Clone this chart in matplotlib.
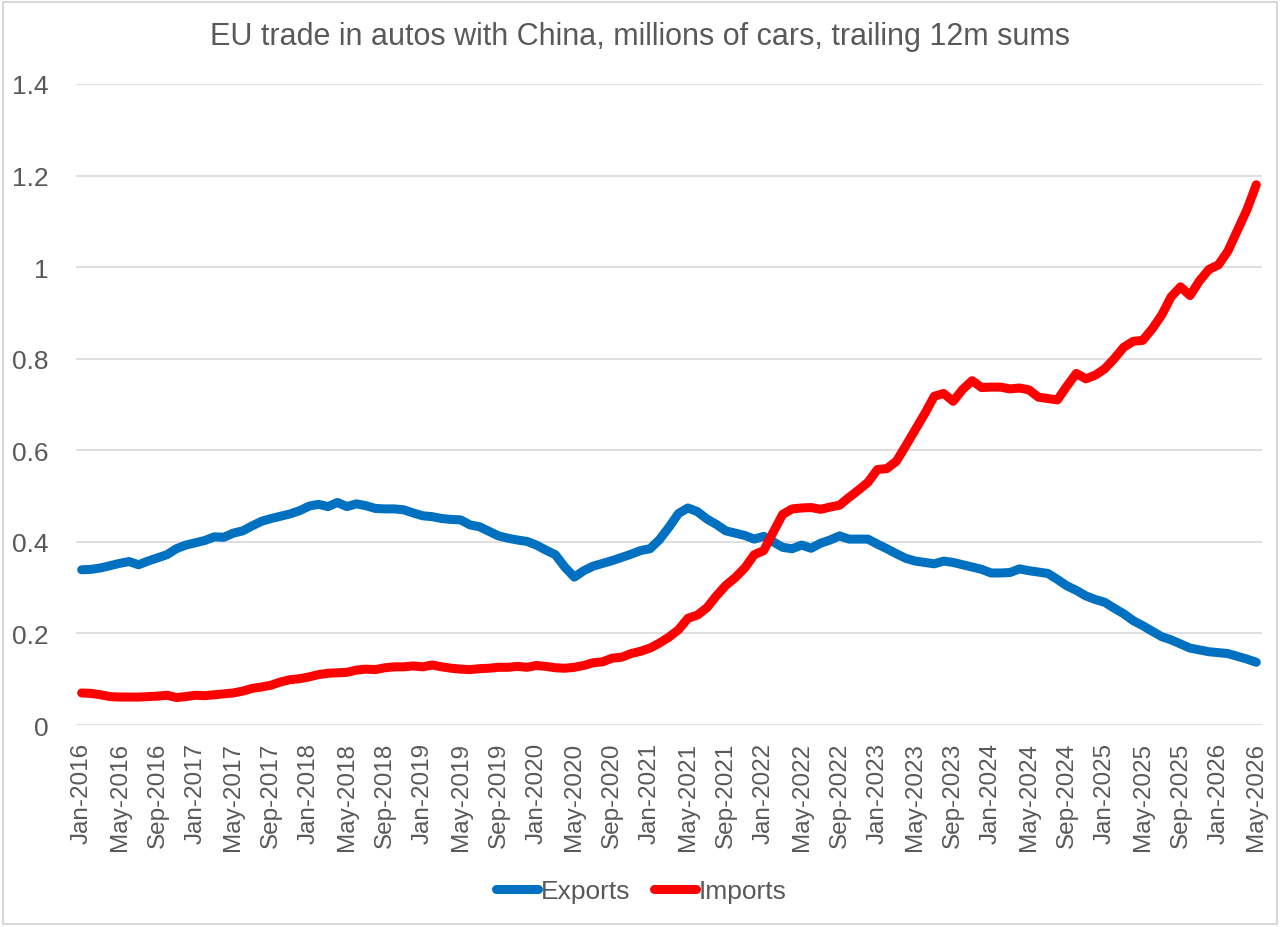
import matplotlib
matplotlib.use("Agg")
import matplotlib.pyplot as plt
import pandas as pd

# monthly, Jan-2016 .. May-2026, millions of cars (trailing 12m sums)
months = pd.date_range("2016-01-01", "2026-05-01", freq="MS")

exports = [
    0.339, 0.340, 0.343, 0.348, 0.353, 0.357, 0.350, 0.358, 0.365, 0.372, 0.385, 0.393,
    0.398, 0.403, 0.411, 0.410, 0.419, 0.424, 0.435, 0.445, 0.451, 0.456, 0.461, 0.468,
    0.478, 0.482, 0.477, 0.486, 0.477, 0.483, 0.479, 0.473, 0.472, 0.472, 0.470, 0.463,
    0.457, 0.455, 0.451, 0.449, 0.448, 0.437, 0.433, 0.423, 0.413, 0.408, 0.404, 0.401,
    0.393, 0.382, 0.372, 0.345, 0.323, 0.337, 0.347, 0.353, 0.359, 0.366, 0.373, 0.381,
    0.385, 0.405, 0.432, 0.462, 0.474, 0.466, 0.450, 0.438, 0.424, 0.419, 0.414, 0.406,
    0.412, 0.400, 0.388, 0.385, 0.393, 0.386, 0.397, 0.404, 0.413, 0.406, 0.406, 0.406,
    0.395, 0.385, 0.374, 0.364, 0.358, 0.355, 0.352, 0.358, 0.355, 0.350, 0.345, 0.340,
    0.332, 0.332, 0.333, 0.341, 0.337, 0.334, 0.331, 0.318, 0.304, 0.294, 0.282, 0.274,
    0.268, 0.255, 0.243, 0.228, 0.217, 0.205, 0.193, 0.186, 0.177, 0.168, 0.164, 0.160,
    0.158, 0.156, 0.150, 0.144, 0.137,
]

imports = [
    0.070, 0.069, 0.066, 0.062, 0.061, 0.061, 0.061, 0.062, 0.063, 0.065, 0.060, 0.062,
    0.065, 0.064, 0.066, 0.068, 0.070, 0.074, 0.080, 0.083, 0.087, 0.094, 0.099, 0.101,
    0.105, 0.110, 0.113, 0.114, 0.115, 0.120, 0.122, 0.121, 0.125, 0.127, 0.127, 0.129,
    0.127, 0.131, 0.127, 0.124, 0.122, 0.121, 0.123, 0.124, 0.126, 0.126, 0.128, 0.126,
    0.130, 0.128, 0.125, 0.124, 0.126, 0.130, 0.136, 0.138, 0.146, 0.148, 0.156, 0.161,
    0.168, 0.179, 0.192, 0.208, 0.233, 0.240, 0.256, 0.282, 0.305, 0.322, 0.343, 0.372,
    0.381, 0.421, 0.460, 0.472, 0.474, 0.475, 0.471, 0.476, 0.480, 0.497, 0.513, 0.530,
    0.558, 0.560, 0.576, 0.610, 0.645, 0.680, 0.718, 0.724, 0.707, 0.733, 0.752, 0.737,
    0.738, 0.738, 0.734, 0.736, 0.732, 0.716, 0.713, 0.710, 0.740, 0.768, 0.756, 0.764,
    0.778, 0.800, 0.825, 0.838, 0.840, 0.865, 0.895, 0.935, 0.957, 0.938, 0.970, 0.995,
    1.005, 1.035, 1.080, 1.125, 1.180,
]

yticks = [0, 0.2, 0.4, 0.6, 0.8, 1.0, 1.2, 1.4]
ytick_labels = ["0", "0.2", "0.4", "0.6", "0.8", "1", "1.2", "1.4"]

font = "Liberation Sans"
grey = "#595959"

fig = plt.figure(figsize=(12.8, 9.28), dpi=100)
ax = fig.add_axes([76 / 1280, 1 - 726 / 928, (1262 - 76) / 1280, (726 - 85) / 928])

x = list(range(len(months)))
ax.plot(x, exports, color="#0070C0", lw=6.5, solid_capstyle="round", label="Exports", zorder=3)
ax.plot(x, imports, color="#FF0000", lw=6.5, solid_capstyle="round", label="Imports", zorder=3)

ax.set_ylim(0, 1.4)
ax.set_xlim(-0.6, len(months) - 0.4)
ax.set_yticks(yticks)
ax.set_yticklabels(ytick_labels, family=font, fontsize=19, color=grey)
ax.set_xticks(x[::4])
ax.set_xticklabels([m.strftime("%b-%Y") for m in months[::4]],
                   rotation=90, fontsize=17.5, color=grey, family=font)
ax.tick_params(axis="both", length=0)
ax.tick_params(axis="y", pad=20)
ax.tick_params(axis="x", pad=12)
ax.grid(axis="y", color="#d9d9d9", lw=1.2)
ax.set_axisbelow(True)
for s in ax.spines.values():
    s.set_visible(False)

fig.text(0.5, 1 - 37 / 928, "EU trade in autos with China, millions of cars, trailing 12m sums",
         ha="center", va="center", fontsize=22, color=grey, family=font)

fig.legend(loc="center", bbox_to_anchor=(641 / 1280, 1 - 892 / 928), ncol=2, frameon=False,
           handlelength=1.6, handletextpad=0.1, columnspacing=0.9,
           prop={"family": font, "size": 19}, labelcolor=grey)

# light chart-area border
fig.patches.append(plt.Rectangle((0.002, 0.003), 0.996, 0.994, transform=fig.transFigure,
                                 fill=False, edgecolor="#d9d9d9", lw=1.5))

fig.savefig("out.png", dpi=100)
